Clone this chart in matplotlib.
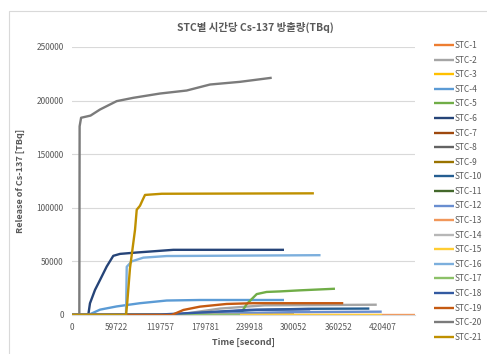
import matplotlib
matplotlib.use("Agg")
import matplotlib.pyplot as plt
from matplotlib.patches import Rectangle

plt.rcParams['font.family'] = ['Noto Sans CJK KR', 'DejaVu Sans']

title = "STC별 시간당 Cs-137 방출량(TBq)"
xlabel = "Time [second]"
ylabel = "Release of Cs-137 [TBq]"
xticks = [0, 59722, 119757, 179781, 239918, 300052, 360252, 420407]
yticks = [0, 50000, 100000, 150000, 200000, 250000]

names = [f"STC-{i}" for i in range(1, 22)]
colors = ["#ED7D31", "#A5A5A5", "#FFC000", "#5B9BD5", "#70AD47", "#264478",
          "#9E480E", "#636363", "#997300", "#255E91", "#43682B", "#698ED0",
          "#F1975A", "#B7B7B7", "#FFCD33", "#7CAFDD", "#8CC168", "#335AA1",
          "#C55A11", "#7B7B7B", "#BF9000"]

# time points (s) and release values (TBq) for each series
t1 = [0, 300000];  v1 = [0, 0]
t2 = [0, 140000, 200000, 260000, 412000];  v2 = [0, 0, 6000, 9000, 9600]
t3 = [0, 300000];  v3 = [0, 0]
t4 = [0, 22000, 37900, 60400, 91900, 128000, 173000, 286600]
v4 = [0, 0, 5000, 8000, 11000, 13500, 14000, 14000]
t5 = [0, 227000, 236000, 249700, 263000, 281000, 308000, 355500]
v5 = [0, 0, 10000, 19500, 21500, 22000, 23000, 24500]
t6 = [0, 22000, 24300, 31100, 37900, 46900, 55800, 64900, 87500, 105500, 137000, 286600]
v6 = [0, 0, 10900, 23400, 32700, 45200, 55200, 57000, 58300, 59200, 60800, 60800]
t7 = [0, 300000];  v7 = [0, 0]
t8 = [0, 271700];  v8 = [0, 0]
t9 = [0, 300000];  v9 = [0, 0]
t10 = [0, 130000, 190000, 250000, 320000, 402000];  v10 = [0, 0, 2500, 4800, 5800, 6000]
t11 = [0, 300000];  v11 = [0, 0]
t12 = [0, 100000, 200000, 300000, 418700];  v12 = [0, 0, 1500, 2700, 3100]
t13 = [0, 463700];  v13 = [0, 0]
t14 = [0, 300000];  v14 = [0, 0]
t15 = [0, 419000];  v15 = [0, 0]
t16 = [0, 73000, 74000, 80700, 96400, 128000, 336000]
v16 = [0, 0, 45000, 50000, 53500, 55000, 55800]
t17 = [0, 227000];  v17 = [0, 0]
t18 = [0, 120000, 180000, 240000, 322000];  v18 = [0, 500, 2500, 4800, 5300]
t19 = [0, 134800, 150600, 173000, 209000, 245000, 366700]
v19 = [0, 0, 4700, 7800, 10300, 11000, 11000]
t20 = [0, 9900, 10300, 12300, 25000, 37900, 60400, 82900, 119000, 155000, 186600, 227000, 270000]
v20 = [0, 0, 176000, 184000, 186000, 191700, 199500, 202600, 206600, 209400, 215000, 217500, 221300]
t21 = [0, 73000, 74500, 78400, 85200, 87500, 91900, 95600, 98700, 121300, 327000]
v21 = [0, 0, 10000, 43700, 79500, 98200, 101900, 107500, 112000, 113100, 113500]

times = [t1, t2, t3, t4, t5, t6, t7, t8, t9, t10, t11, t12, t13, t14, t15, t16, t17, t18, t19, t20, t21]
values = [v1, v2, v3, v4, v5, v6, v7, v8, v9, v10, v11, v12, v13, v14, v15, v16, v17, v18, v19, v20, v21]

fig = plt.figure(figsize=(4.87, 3.54), dpi=100)
ax = fig.add_axes([72/487, 1-315/354, (415-72)/487, (315-47)/354])

for name, c, t, v in zip(names, colors, times, values):
    ax.plot(t, v, color=c, lw=1.7, label=name, solid_capstyle='butt')

ax.set_xlim(0, 463700)
ax.set_ylim(0, 250000)
ax.set_xticks(xticks)
ax.set_xticklabels([str(x) for x in xticks])
ax.set_yticks(yticks)
ax.set_yticklabels([str(y) for y in yticks])
ax.tick_params(axis='both', length=0, labelsize=6, colors="#595959", pad=6)
ax.grid(axis='y', color="#D9D9D9", lw=0.8)
ax.set_axisbelow(True)
for s in ['left', 'right', 'top']:
    ax.spines[s].set_visible(False)
ax.spines['bottom'].set_color("#D9D9D9")

ax.set_xlabel(xlabel, fontsize=6.5, fontweight='bold', color="#595959", labelpad=4)
ax.set_ylabel(ylabel, fontsize=6.5, fontweight='bold', color="#595959", labelpad=8)

fig.text(255/487, 1-27/354, title, ha='center', va='center', fontsize=7.5,
         fontweight='bold', color="#595959")

leg = fig.legend(loc='upper left', bbox_to_anchor=(434/487, 1-41/354), frameon=False,
                 fontsize=6, handlelength=2.4, handletextpad=0.1, labelspacing=0.67,
                 borderaxespad=0, borderpad=0)
for txt in leg.get_texts():
    txt.set_color("#595959")

fig.patches.append(Rectangle((9/487, -0.1), 1.2, 0.1 + 1 - 11.5/354, transform=fig.transFigure,
                             fill=False, edgecolor="#D9D9D9", lw=0.8))

fig.savefig("out.png", dpi=100)
